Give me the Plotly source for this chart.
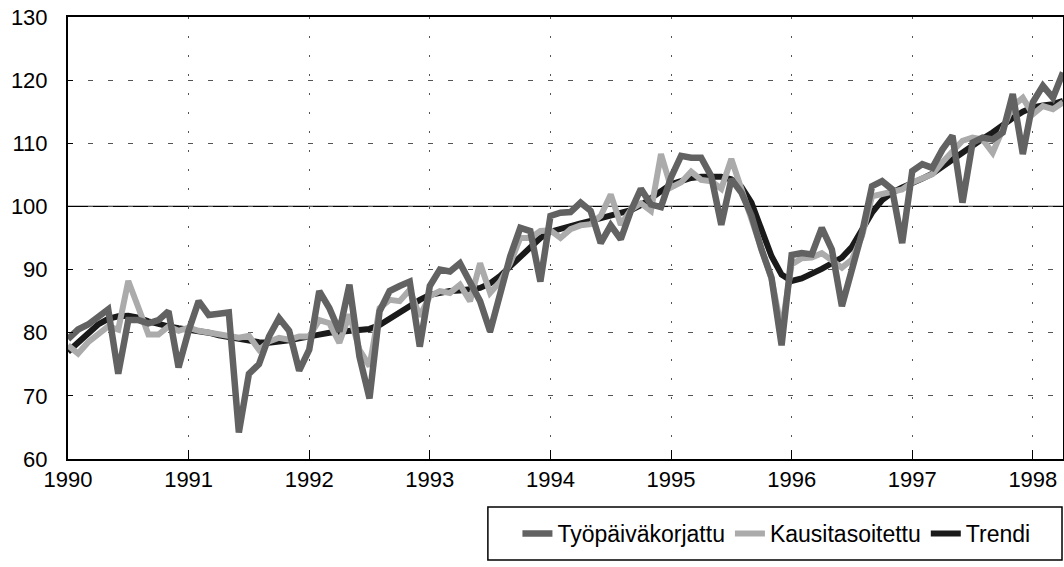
import plotly.graph_objects as go

# Monthly index, Jan 1990 .. Apr 1998
start_year = 1990
n_months = 100

tyopaiva = [79, 80.5, 81.3, 82.6, 83.7, 73.5, 82, 82, 81.5, 82, 83.4, 74.5,
            80.3, 85, 82.8, 83, 83.2, 64.2, 73.5, 75, 79.4, 82.3, 80.3, 74,
            77.3, 86.6, 83.9, 80.2, 87.6, 76.2, 69.6, 83.4, 86.6, 87.4, 88.1, 77.8,
            87.4, 90, 89.7, 91, 87.9, 85, 80.2, 86.3, 92.1, 96.6, 96.1, 88.1,
            98.5, 99, 99.1, 100.6, 99.3, 94.2, 97, 94.8, 99.3, 102.8, 100.3, 99.9,
            104.6, 108, 107.7, 107.7, 104.8, 97.1, 104.3, 102.2, 98.6, 93.2, 88.7, 78,
            92.3, 92.6, 92.4, 96.6, 93.2, 84.2, 90, 95.8, 103.2, 104, 102.7, 94.2,
            105.6, 106.7, 106.1, 109, 111.2, 100.6, 110.1, 110.9, 110.6, 111.7, 117.8, 108.3,
            116.5, 119.1, 117.2, 121.2]

kausi = [78, 76.7, 78.5, 79.7, 81, 80.5, 88.2, 84, 79.7, 79.7, 81, 80.3,
         80.8, 80.3, 80, 79.8, 79.6, 79.2, 79.5, 77.3, 78.6, 79.2, 78.9, 79.4,
         79.4, 82, 81.5, 78.4, 82.9, 77.3, 74.7, 83.9, 85.2, 85, 86.8, 82.6,
         85.8, 86.6, 86.3, 87.6, 85, 91, 86.3, 88.1, 91, 95, 95, 96.1,
         96.2, 95, 96.4, 97, 97.2, 98.5, 101.9, 97.1, 99.5, 100.5, 99.3, 108.3,
         103, 103.8, 105.5, 104.2, 104, 102.8, 107.5, 102.8, 98.2, 93.2, 88.5, 80.5,
         90.8, 91.8, 91.9, 92.6, 91.3, 90.3, 91.6, 95.3, 101.6, 101.9, 102.2, 102.7,
         103.8, 104.5, 105.1, 107, 108.8, 110.4, 110.9, 110.6, 108.5, 112.2, 115.9, 117.2,
         114.6, 115.9, 115.4, 116.5]

trendi = [77, 78.5, 80, 81.3, 82.2, 82.6, 82.7, 82.4, 81.8, 81.3, 81, 80.7,
          80.5, 80.3, 80, 79.6, 79.3, 79, 78.7, 78.5, 78.4, 78.5, 78.8, 79.1,
          79.3, 79.7, 80, 80.2, 80.3, 80.4, 80.6, 81.2, 82.2, 83.2, 84.3, 85.2,
          86, 86.4, 86.6, 86.7, 86.8, 87.1, 87.8, 89, 90.5, 92.1, 93.6, 95,
          96, 96.5, 96.9, 97.3, 97.7, 98.1, 98.5, 98.9, 99.4, 100.2, 101.2, 102.4,
          103.5, 104.1, 104.5, 104.7, 104.8, 104.7, 104.3, 103.1, 100.6, 96.3, 92.1, 89.2,
          88.2, 88.6, 89.3, 90.1, 91, 91.9, 93.6, 96.2, 99, 101, 102.2, 103,
          103.6, 104.4, 105.2, 106.3, 107.5, 108.7, 109.8, 110.7, 111.7, 112.9, 114, 115,
          115.7, 116, 116.2, 116.7]

x_vals = [start_year + k / 12 for k in range(n_months)]
year_ticks = list(range(1990, 1999))
y_ticks = list(range(60, 131, 10))

FONT = "Liberation Sans, Arial, sans-serif"

fig = go.Figure()
fig.add_trace(go.Scatter(x=x_vals, y=trendi, mode="lines", name="Trendi",
                         line=dict(color="#1a1a1a", width=6), legendrank=3))
fig.add_trace(go.Scatter(x=x_vals, y=kausi, mode="lines", name="Kausitasoitettu",
                         line=dict(color="#ababab", width=6), legendrank=2))
fig.add_trace(go.Scatter(x=x_vals, y=tyopaiva, mode="lines", name="Työpäiväkorjattu",
                         line=dict(color="#626262", width=6.5), legendrank=1))

# reference line at 100
fig.add_shape(type="line", xref="paper", x0=0, x1=1, yref="y", y0=100, y1=100,
              line=dict(color="black", width=1.3), layer="below")
# legend frame
fig.add_shape(type="rect", xref="paper", yref="paper",
              x0=0.422, x1=0.999, y0=-0.2285, y1=-0.1086,
              line=dict(color="black", width=1.5), fillcolor="white", layer="below")

fig.update_layout(
    width=1064, height=567,
    margin=dict(l=68, r=1, t=17, b=108, autoexpand=False),
    paper_bgcolor="white", plot_bgcolor="white",
    font=dict(family=FONT, size=22, color="black"),
    showlegend=True,
    legend=dict(orientation="h", x=0.712, xanchor="center", y=-0.1685, yanchor="middle",
                borderwidth=0, bgcolor="rgba(0,0,0,0)",
                font=dict(family=FONT, size=23), itemwidth=30,
                traceorder="normal"),
    xaxis=dict(range=[1990, 1998.25], tickvals=year_ticks,
               ticktext=[str(y) for y in year_ticks],
               showgrid=True, gridcolor="#555", griddash="2px,17px", gridwidth=1.3,
               showline=True, linecolor="black", linewidth=2, mirror=True,
               ticks="inside", ticklen=9, tickcolor="black", zeroline=False,
               automargin=False, tickfont=dict(size=22)),
    yaxis=dict(range=[60, 130], tickvals=y_ticks,
               showgrid=True, gridcolor="#555", griddash="5px,15px", gridwidth=1.3,
               showline=True, linecolor="black", linewidth=2, mirror=True,
               ticks="inside", ticklen=5, tickcolor="black", zeroline=False,
               automargin=False, ticklabelstandoff=14, tickfont=dict(size=22)),
)

fig.write_html(
    "out.html",
    config={"displayModeBar": False},
    post_script="document.body.style.margin='0';document.body.style.overflow='hidden';",
)
